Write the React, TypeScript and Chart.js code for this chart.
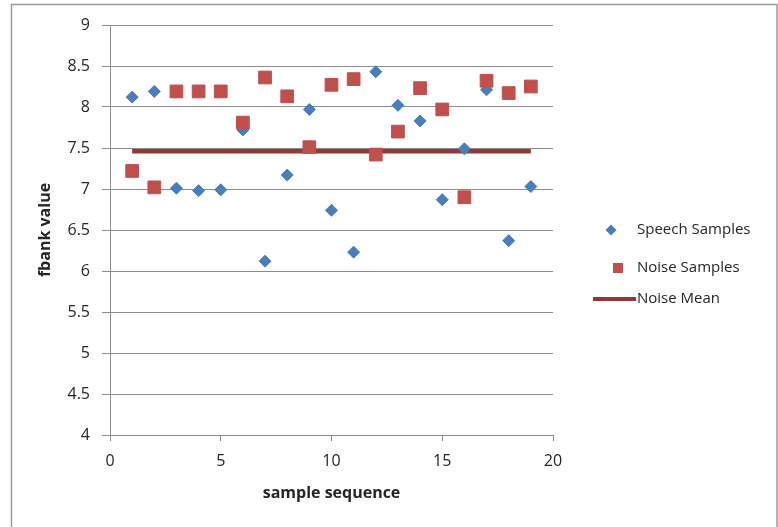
import React, { useEffect, useRef } from 'react';
import { Chart, registerables } from 'chart.js';

Chart.register(...registerables);

// ---- data ----
const sampleIndex = [1, 2, 3, 4, 5, 6, 7, 8, 9, 10, 11, 12, 13, 14, 15, 16, 17, 18, 19];
const speechValues = [8.12, 8.19, 7.01, 6.98, 6.99, 7.72, 6.12, 7.17, 7.97, 6.74, 6.23, 8.43, 8.02, 7.83, 6.87, 7.49, 8.21, 6.37, 7.03];
const noiseValues = [7.22, 7.02, 8.19, 8.19, 8.19, 7.81, 8.36, 8.13, 7.51, 8.27, 8.34, 7.42, 7.7, 8.23, 7.97, 6.9, 8.32, 8.17, 8.25];
const noiseMeanValue = 7.46;
const noiseMeanRange = [1, 19];
const seriesNames = ['Speech Samples', 'Noise Samples', 'Noise Mean'];
const xAxisTitle = 'sample sequence';
const yAxisTitle = 'fbank value';
const xRange = [0, 20];
const xStep = 5;
const yRange = [4, 9];
const yStep = 0.5;

const FONT = '"Open Sans", "Liberation Sans", sans-serif';
const TEXT = '#262626';
const GRID = '#8c8c8c';
const BLUE = '#4A7EBB';
const RED = '#C0504D';
const DARKRED = '#953735';

const framePlugin = {
  id: 'frame',
  beforeDraw(chart: any) {
    const ctx = chart.ctx;
    ctx.save();
    ctx.fillStyle = '#ffffff';
    ctx.fillRect(0, 0, chart.width, chart.height);
    ctx.strokeStyle = '#9a9a9a';
    ctx.lineWidth = 1.5;
    ctx.strokeRect(11.5, 4.5, chart.width - 12.5, chart.height + 10);
    ctx.restore();
  },
};

const legendPlugin = {
  id: 'sideLegend',
  afterDraw(chart: any) {
    const ctx = chart.ctx;
    const ds = chart.data.datasets;
    ctx.save();
    ctx.font = `15px ${FONT}`;
    ctx.textBaseline = 'middle';
    ctx.textAlign = 'left';
    const textX = 637;
    // diamond
    let y = 230;
    ctx.fillStyle = ds[0].backgroundColor;
    ctx.beginPath();
    ctx.moveTo(611, y - 5.5);
    ctx.lineTo(616.5, y);
    ctx.lineTo(611, y + 5.5);
    ctx.lineTo(605.5, y);
    ctx.closePath();
    ctx.fill();
    ctx.fillStyle = TEXT;
    ctx.fillText(ds[0].label, textX, y);
    // square
    y = 268;
    ctx.fillStyle = ds[1].backgroundColor;
    ctx.fillRect(613, y - 5, 10, 10);
    ctx.fillStyle = TEXT;
    ctx.fillText(ds[1].label, textX, y);
    // line
    y = 299;
    ctx.strokeStyle = ds[2].borderColor;
    ctx.lineWidth = 4;
    ctx.beginPath();
    ctx.moveTo(593, y);
    ctx.lineTo(636, y);
    ctx.stroke();
    ctx.fillStyle = TEXT;
    ctx.fillText(ds[2].label, textX, y);
    ctx.restore();
  },
};

export default function App() {
  const ref = useRef<HTMLCanvasElement | null>(null);

  useEffect(() => {
    if (!ref.current) return;
    const chart = new Chart(ref.current, {
      type: 'scatter',
      data: {
        datasets: [
          {
            label: seriesNames[0],
            data: sampleIndex.map((x, i) => ({ x, y: speechValues[i] })),
            pointStyle: 'rectRot',
            pointRadius: 6,
            pointBorderWidth: 1,
            backgroundColor: BLUE,
            borderColor: BLUE,
            order: 2,
          },
          {
            label: seriesNames[1],
            data: sampleIndex.map((x, i) => ({ x, y: noiseValues[i] })),
            pointStyle: 'rect',
            pointRadius: 9,
            pointBorderWidth: 1,
            backgroundColor: RED,
            borderColor: RED,
            order: 1,
          },
          {
            label: seriesNames[2],
            data: noiseMeanRange.map((x) => ({ x, y: noiseMeanValue })),
            showLine: true,
            pointRadius: 0,
            borderWidth: 4.5,
            borderColor: DARKRED,
            backgroundColor: DARKRED,
            borderCapStyle: 'butt',
            order: 3,
          },
        ],
      } as any,
      options: {
        responsive: false,
        animation: false,
        devicePixelRatio: 1,
        layout: { padding: { left: 0, top: 25, right: 225, bottom: 0 } },
        plugins: {
          legend: { display: false },
          tooltip: { enabled: false },
        },
        scales: {
          x: {
            type: 'linear',
            min: xRange[0],
            max: xRange[1],
            ticks: {
              stepSize: xStep,
              color: TEXT,
              font: { family: FONT, size: 16 },
              padding: 11,
              callback: (v: any) => String(v),
            },
            grid: { drawOnChartArea: false, drawTicks: true, tickLength: 6, color: GRID },
            border: { color: GRID, width: 1 },
            title: {
              display: true,
              text: xAxisTitle,
              color: TEXT,
              font: { family: FONT, size: 16, weight: 'bold' },
              padding: { top: 0, bottom: 24 },
            },
            afterFit: (s: any) => {
              s.height = 92;
            },
          },
          y: {
            type: 'linear',
            min: yRange[0],
            max: yRange[1],
            ticks: {
              stepSize: yStep,
              color: TEXT,
              font: { family: FONT, size: 16 },
              padding: 12,
              callback: (v: any) => String(v),
            },
            grid: { color: GRID, lineWidth: 1, drawTicks: true, tickLength: 8 },
            border: { color: GRID, width: 1 },
            title: {
              display: true,
              text: yAxisTitle,
              color: TEXT,
              font: { family: FONT, size: 16, weight: 'bold' },
              padding: { top: 36, bottom: 0 },
            },
            afterFit: (s: any) => {
              s.width = 110;
            },
          },
        },
      } as any,
      plugins: [framePlugin, legendPlugin],
    });
    return () => chart.destroy();
  }, []);

  return (
    <div style={{ position: 'absolute', left: 0, top: 0, width: 778, height: 527 }}>
      <canvas ref={ref} width={778} height={527} />
    </div>
  );
}
